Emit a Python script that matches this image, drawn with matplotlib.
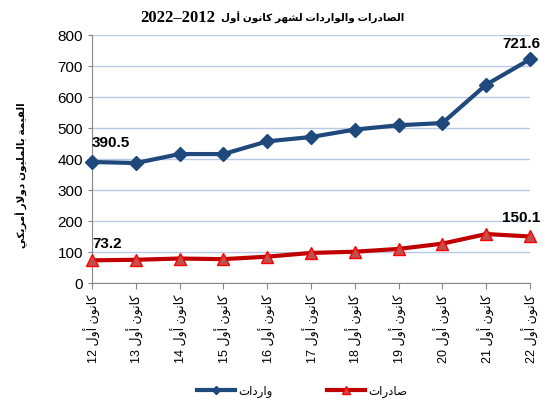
import matplotlib
matplotlib.use('Agg')
import matplotlib.pyplot as plt
import numpy as np

# -- Dati
years = ['12', '13', '14', '15', '16', '17', '18', '19', '20', '21', '22']
imports = [390.5, 387, 416, 416, 457, 471, 495, 509, 516, 640, 721.6]
exports = [73.2, 75, 79, 77, 85, 97, 101, 110, 127, 158, 150.1]

title = 'الصادرات والواردات لشهر كانون أول'
title_years = '2012–2022'
ylabel = 'القيمة بالمليون دولار أمريكي'
tick_word = 'كانون أول'
imports_name = 'واردات'
exports_name = 'صادرات'

# -- forme: isolata, finale, iniziale, mediana (None = solo a destra)
FORMS = {
    'ا': (0xFE8D, 0xFE8E, None, None),
    'أ': (0xFE83, 0xFE84, None, None),
    'ب': (0xFE8F, 0xFE90, 0xFE91, 0xFE92),
    'ة': (0xFE93, 0xFE94, None, None),
    'ت': (0xFE95, 0xFE96, 0xFE97, 0xFE98),
    'د': (0xFEA9, 0xFEAA, None, None),
    'ر': (0xFEAD, 0xFEAE, None, None),
    'ش': (0xFEB5, 0xFEB6, 0xFEB7, 0xFEB8),
    'ص': (0xFEB9, 0xFEBA, 0xFEBB, 0xFEBC),
    'ق': (0xFED5, 0xFED6, 0xFED7, 0xFED8),
    'ك': (0xFED9, 0xFEDA, 0xFEDB, 0xFEDC),
    'ل': (0xFEDD, 0xFEDE, 0xFEDF, 0xFEE0),
    'م': (0xFEE1, 0xFEE2, 0xFEE3, 0xFEE4),
    'ن': (0xFEE5, 0xFEE6, 0xFEE7, 0xFEE8),
    'ه': (0xFEE9, 0xFEEA, 0xFEEB, 0xFEEC),
    'و': (0xFEED, 0xFEEE, None, None),
    'ي': (0xFEF1, 0xFEF2, 0xFEF3, 0xFEF4),
}
LAM_ALEF = {'ا': (0xFEFB, 0xFEFC), 'أ': (0xFEF7, 0xFEF8)}


def dual(c):
    return c in FORMS and FORMS[c][2] is not None


def ar(s):
    '''
        Shaping arabo minimo + ordine visivo (matplotlib non fa bidi)
    '''
    out = []
    i = 0
    while i < len(s):
        c = s[i]
        if c not in FORMS:
            out.append(c)
            i += 1
            continue
        prev = s[i - 1] if i > 0 else ''
        joins_prev = dual(prev)
        if c == 'ل' and i + 1 < len(s) and s[i + 1] in LAM_ALEF:
            iso, fin = LAM_ALEF[s[i + 1]]
            out.append(chr(fin if joins_prev else iso))
            i += 2
            continue
        nxt = s[i + 1] if i + 1 < len(s) else ''
        joins_next = dual(c) and nxt in FORMS
        iso, fin, ini, med = FORMS[c]
        if joins_prev and joins_next:
            out.append(chr(med))
        elif joins_prev:
            out.append(chr(fin))
        elif joins_next:
            out.append(chr(ini))
        else:
            out.append(chr(iso))
        i += 1
    rev = ''.join(out)[::-1]
    # -- i numeri restano da sinistra a destra
    res, run = [], ''
    for ch in rev:
        if ch.isdigit() or ch == '.':
            run += ch
        else:
            res.append(run[::-1])
            run = ''
            res.append(ch)
    res.append(run[::-1])
    return ''.join(res)


plt.rcParams['font.family'] = ['Liberation Sans', 'DejaVu Sans']

BLUE = '#1F497D'
RED = '#C00000'

fig = plt.figure(figsize=(5.45, 3.98), dpi=100)
ax = fig.add_axes([0.1688, 0.2889, 0.8037, 0.6231])

x = np.arange(len(years))
ax.plot(x, imports, color=BLUE, linewidth=3, marker='D', markersize=7,
        markerfacecolor=BLUE, markeredgecolor=BLUE, clip_on=False, zorder=4,
        label=ar(imports_name))
ax.plot(x, exports, color=RED, linewidth=3, marker='^', markersize=9,
        markerfacecolor='#C0504D', markeredgecolor='#FF0000', markeredgewidth=1,
        clip_on=False, zorder=4, label=ar(exports_name))

ax.set_xlim(0, len(years) - 1)
ax.set_ylim(0, 800)
ax.set_yticks(np.arange(0, 801, 100))
ax.set_xticks(x)
ax.set_xticklabels([ar(tick_word + ' ' + y) for y in years], rotation=90, fontsize=9)
ax.tick_params(axis='y', labelsize=11, length=3, color='#868686')
ax.tick_params(axis='x', length=4, color='#868686', pad=4)
ax.grid(axis='y', color='#B9C9E5', linewidth=1)
ax.set_axisbelow(True)
for side in ['top', 'right']:
    ax.spines[side].set_visible(False)
for side in ['left', 'bottom']:
    ax.spines[side].set_color('#868686')

# -- etichette valori (scostamento in pixel sopra il punto)
last = len(years) - 1
labels = [(0, imports[0], 0, 19, 'left'), (0, exports[0], 0, 16, 'left'),
          (last, imports[-1], -9, 15, 'center'), (last, exports[-1], -9, 18, 'center')]
for i, v, dx, dy, ha in labels:
    ax.annotate(f'{v:.1f}', (i, v), xytext=(dx, dy), textcoords='offset pixels',
                ha=ha, va='center', fontsize=11, fontweight='bold')

# -- titolo: anni in serif, testo arabo a destra
fig.text(0.395, 0.955, ar(title_years), ha='right', va='center', fontsize=12,
         fontweight='bold', family=['Liberation Serif', 'DejaVu Sans'])
fig.text(0.405, 0.955, ar(title), ha='left', va='center', fontsize=7.5,
         fontweight='bold')
fig.text(0.04, 0.56, ar(ylabel), rotation=90, ha='center', va='center',
         fontsize=7.5, fontweight='bold')

fig.legend(loc='center', bbox_to_anchor=(0.555, 0.016), ncol=2, frameon=False,
           fontsize=8.5, handlelength=3.2, handletextpad=0.3, columnspacing=4.6,
           markerscale=0.6)

fig.savefig('out.png', dpi=100)
